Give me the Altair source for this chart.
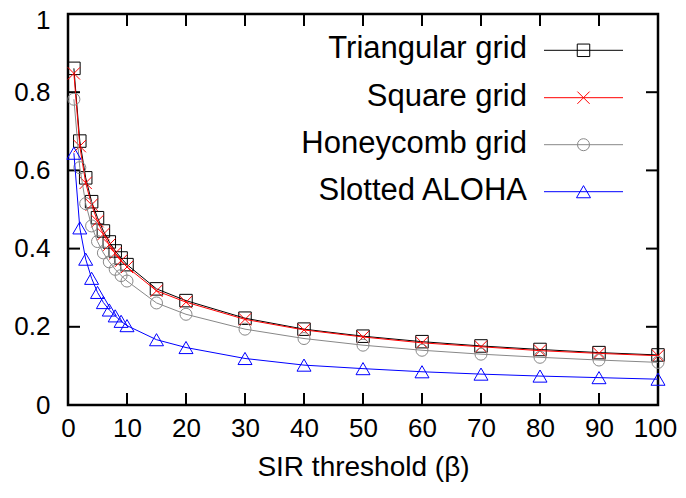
import altair as alt
import pandas as pd

beta = [1, 2, 3, 4, 5, 6, 7, 8, 9, 10, 15, 20, 30, 40, 50, 60, 70, 80, 90, 100]
triangular = [0.861, 0.675, 0.581, 0.520, 0.479, 0.445, 0.417, 0.394, 0.376, 0.359,
              0.297, 0.267, 0.222, 0.194, 0.176, 0.162, 0.151, 0.142, 0.134, 0.128]
square = [0.848, 0.662, 0.568, 0.512, 0.470, 0.437, 0.410, 0.388, 0.369, 0.353,
          0.292, 0.263, 0.219, 0.192, 0.174, 0.159, 0.149, 0.139, 0.132, 0.126]
honeycomb = [0.782, 0.607, 0.515, 0.458, 0.418, 0.389, 0.366, 0.347, 0.331, 0.317,
             0.261, 0.232, 0.194, 0.170, 0.153, 0.140, 0.130, 0.122, 0.115, 0.109]
aloha = [0.644, 0.453, 0.373, 0.324, 0.288, 0.262, 0.243, 0.228, 0.214, 0.203,
         0.167, 0.147, 0.119, 0.102, 0.093, 0.085, 0.079, 0.074, 0.070, 0.066]

names = ["Triangular grid", "Square grid", "Honeycomb grid", "Slotted ALOHA"]
series = [triangular, square, honeycomb, aloha]
colors = ["#000000", "#ff0000", "#888888", "#0000ff"]
shapes = ["square", "M-1,-1L1,1M-1,1L1,-1", "circle", "triangle-up"]
sizes = [156, 150, 144, 196]

x_ticks = [0, 10, 20, 30, 40, 50, 60, 70, 80, 90, 100]
y_ticks = [0, 0.2, 0.4, 0.6, 0.8, 1.0]

W, H = 590, 391
FONT = "Liberation Sans"

xs = alt.Scale(domain=[0, 100], nice=False, zero=False)
ys = alt.Scale(domain=[0, 1], nice=False, zero=False)
xaxis = alt.Axis(values=x_ticks, title="SIR threshold (β)", labelPadding=10,
                 titlePadding=12, labelFontSize=26, titleFontSize=28, labelFlush=False,
                 labelOffset={"condition": {"test": "datum.value == 100", "value": -3},
                              "value": 0})
yaxis = alt.Axis(values=y_ticks, title=None, format="~g", labelPadding=18,
                 labelFontSize=26, labelFlush=False,
                 labelOffset={"condition": {"test": "datum.value == 1", "value": 6},
                              "value": 0})


def X(f="x"):
    return alt.X(f"{f}:Q", scale=xs, axis=xaxis)


def Y(f="y"):
    return alt.Y(f"{f}:Q", scale=ys, axis=yaxis)


layers = []

# inward ticks on all four sides
ydf = pd.DataFrame({"y": y_ticks})
xdf = pd.DataFrame({"x": x_ticks})
tick_len = 12
layers.append(alt.Chart(ydf).mark_rule(color="black", strokeWidth=2).encode(
    y=Y(), x=alt.value(0), x2=alt.value(tick_len)))
layers.append(alt.Chart(ydf).mark_rule(color="black", strokeWidth=2).encode(
    y=Y(), x=alt.value(W - tick_len), x2=alt.value(W)))
layers.append(alt.Chart(xdf).mark_rule(color="black", strokeWidth=2).encode(
    x=X(), y=alt.value(H), y2=alt.value(H - tick_len)))
layers.append(alt.Chart(xdf).mark_rule(color="black", strokeWidth=2).encode(
    x=X(), y=alt.value(0), y2=alt.value(tick_len)))

# data series
for name, vals, col, shp, sz in zip(names, series, colors, shapes, sizes):
    df = pd.DataFrame({"x": beta, "y": vals, "series": name})
    layers.append(alt.Chart(df).mark_line(color=col, strokeWidth=1).encode(x=X(), y=Y()))
    layers.append(alt.Chart(df).mark_point(color=col, shape=shp, size=sz, filled=False,
                                           strokeWidth=1, opacity=1).encode(x=X(), y=Y()))

# legend (top right, labels left of symbols)
row_y = [35.3, 82.7, 129.7, 176.7]
text_right = 459
line_x1, line_x2 = 476, 555
mark_x = (line_x1 + line_x2) / 2
for name, col, shp, sz, ry in zip(names, colors, shapes, sizes, row_y):
    ldf = pd.DataFrame({"label": [name]})
    layers.append(alt.Chart(ldf).mark_text(align="right", baseline="middle", font=FONT,
                                           fontSize=31, color="black").encode(
        x=alt.value(text_right), y=alt.value(ry), text="label:N"))
    layers.append(alt.Chart(ldf).mark_rule(color=col, strokeWidth=1).encode(
        x=alt.value(line_x1), x2=alt.value(line_x2), y=alt.value(ry + 1)))
    layers.append(alt.Chart(ldf).mark_point(color=col, shape=shp, size=sz, filled=False,
                                            strokeWidth=1, opacity=1).encode(
        x=alt.value(mark_x), y=alt.value(ry + 1)))

chart = alt.layer(*layers).properties(
    width=W, height=H,
    autosize=alt.AutoSizeParams(type="none"),
    padding={"left": 60, "top": 6, "right": 20, "bottom": 85},
).configure_view(
    stroke="black", strokeWidth=2.5
).configure_axis(
    grid=False, domain=False, ticks=False, labelFont=FONT, titleFont=FONT,
    labelColor="black", titleColor="black", titleFontWeight="normal"
)

chart.save("out.html", embed_options={"renderer": "svg", "actions": False})
